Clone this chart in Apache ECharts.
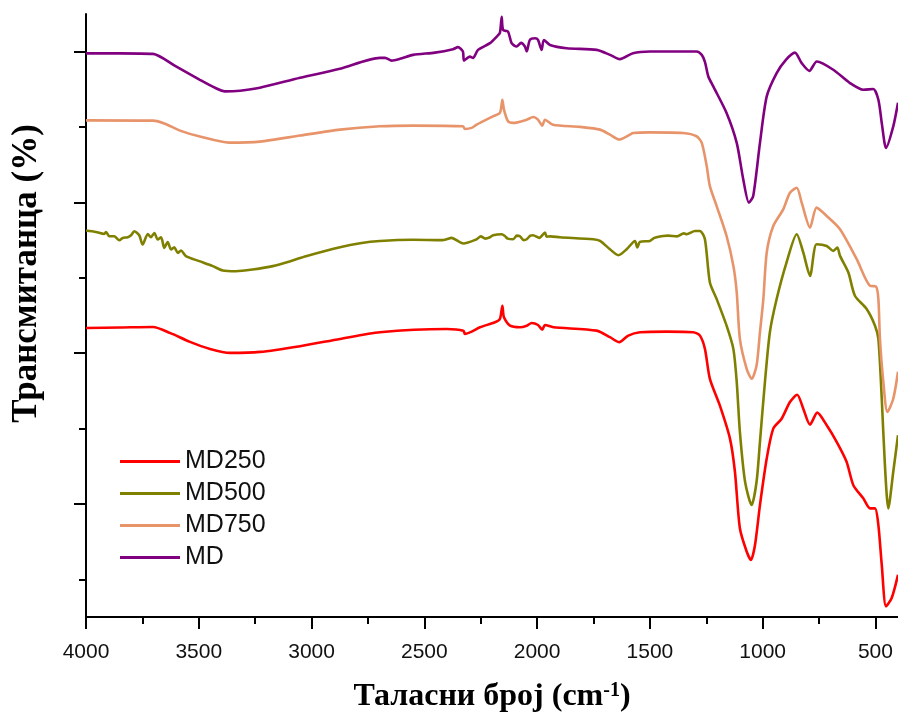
<!DOCTYPE html>
<html>
<head>
<meta charset="utf-8">
<script src="https://cdn.jsdelivr.net/npm/echarts@6/dist/echarts.min.js"></script>
<style>
html,body{margin:0;padding:0;background:#fff;}
#c{width:898px;height:718px;}
</style>
</head>
<body>
<div id="c"></div>
<script>
// Series names
const seriesNames = ['MD250', 'MD500', 'MD750', 'MD'];
const seriesColors = ['#ff0000', '#808000', '#e8946b', '#800080'];

// x tick labels (wavenumber, cm-1)
const xMajorTicks = [4000, 3500, 3000, 2500, 2000, 1500, 1000, 500];
const xMinorTicks = [3750, 3250, 2750, 2250, 1750, 1250, 750];
// y ticks (arbitrary transmittance units, no labels)
const yMajorTicks = [15, 35, 55, 75];
const yMinorTicks = [5, 25, 45, 65];

// [wavenumber, transmittance]
const md250 = [
[4000,38.35],[3849,38.41],[3703,38.48],[3628,37.69],[3539,36.50],[3450,35.57],[3362,35.04],[3229,35.17],
[3051,35.93],[2874,36.89],[2697,37.78],[2401,38.21],[2327,37.99],[2320,37.55],[2290,37.86],[2253,38.44],
[2187,39.10],[2165,39.54],[2154,41.30],[2147,39.76],[2120,38.65],[2076,38.44],[2046,38.65],[2024,39.01],
[1996,38.74],[1977,38.12],[1965,38.74],[1928,38.44],[1736,37.99],[1677,37.12],[1636,36.46],[1596,37.33],
[1544,37.78],[1426,37.86],[1308,37.78],[1278,37.33],[1256,35.57],[1234,31.60],[1190,28.07],[1145,23.67],
[1123,19.27],[1101,11.77],[1071,8.69],[1052,7.58],[1034,9.56],[1012,14.85],[982,21.02],[953,24.99],
[916,26.31],[879,28.52],[847,29.49],[820,27.64],[790,25.52],[758,27.11],[716,25.43],[672,23.23],
[628,20.59],[598,17.49],[554,15.74],[524,14.41],[502,14.41],[487,12.20],[472,6.92],[453,1.41],
[428,2.51],[400,5.59]
];
const md500 = [
[4000,51.27],[3956,51.08],[3919,50.82],[3911,51.08],[3897,50.51],[3875,50.51],[3852,49.98],[3837,50.29],
[3815,50.38],[3800,50.64],[3786,51.17],[3764,50.64],[3749,49.41],[3726,50.82],[3712,50.38],[3697,50.95],
[3682,50.08],[3667,50.38],[3653,48.97],[3638,49.76],[3623,48.75],[3609,49.06],[3593,48.30],[3579,48.62],
[3557,47.87],[3498,47.21],[3438,46.55],[3394,45.98],[3335,45.88],[3261,46.11],[3172,46.55],[3084,47.30],
[3025,47.87],[2874,49.06],[2785,49.59],[2697,49.89],[2550,50.05],[2420,50.00],[2401,50.12],[2380,50.30],
[2327,49.55],[2268,50.12],[2250,50.50],[2230,50.20],[2209,50.38],[2195,50.65],[2157,50.78],[2142,50.51],
[2130,50.20],[2106,50.12],[2090,50.60],[2076,50.51],[2060,50.00],[2046,50.12],[2030,50.60],[2018,50.64],
[1990,50.30],[1965,51.00],[1958,50.47],[1940,50.50],[1899,50.38],[1751,50.12],[1721,49.89],[1677,48.79],
[1640,48.00],[1603,48.79],[1566,49.89],[1556,49.02],[1544,49.76],[1500,49.89],[1480,50.30],[1441,50.55],
[1420,50.60],[1380,50.50],[1350,50.90],[1337,50.78],[1300,51.21],[1278,51.21],[1256,50.12],[1234,44.39],
[1204,42.18],[1160,38.65],[1130,35.57],[1115,31.17],[1101,24.56],[1078,17.94],[1049,14.85],[1027,17.94],
[1012,23.23],[990,31.17],[968,37.78],[938,42.18],[894,47.04],[849,50.78],[820,48.36],[790,45.26],
[761,49.45],[716,49.23],[687,48.57],[669,49.02],[657,47.91],[620,45.71],[591,42.62],[539,40.86],
[502,38.65],[487,36.89],[472,28.96],[458,20.14],[443,14.41],[421,19.27],[400,24.11]
];
const md750 = [
[4000,65.89],[3703,65.85],[3650,65.45],[3583,64.53],[3495,63.74],[3366,62.94],[3229,63.07],[3051,63.87],
[2874,64.66],[2697,65.10],[2550,65.19],[2329,65.10],[2320,64.75],[2290,64.89],[2268,65.32],[2196,66.42],
[2165,66.87],[2154,68.63],[2147,67.31],[2129,65.76],[2107,65.55],[2046,65.98],[2017,66.34],[1996,65.98],
[1977,65.19],[1965,65.98],[1930,65.32],[1810,65.02],[1721,64.66],[1677,64.00],[1636,63.34],[1588,64.00],
[1575,64.22],[1500,64.30],[1353,64.22],[1293,63.78],[1270,62.90],[1248,59.81],[1234,57.16],[1204,54.52],
[1160,50.55],[1130,46.59],[1115,43.07],[1101,36.89],[1071,32.93],[1049,31.60],[1027,33.36],[1012,37.78],
[997,42.18],[982,48.36],[953,51.87],[909,54.08],[879,56.29],[849,56.95],[827,54.97],[790,51.66],
[761,54.31],[716,53.20],[657,51.44],[583,47.47],[524,43.94],[498,43.86],[487,42.18],[480,36.89],
[465,31.17],[447,27.20],[421,28.96],[400,32.53]
];
const md = [
[4000,74.78],[3849,74.78],[3703,74.71],[3605,73.12],[3495,71.27],[3428,70.21],[3384,69.73],[3317,69.82],
[3229,70.21],[3051,71.54],[2874,72.73],[2697,74.18],[2674,74.18],[2645,73.82],[2608,74.05],[2550,74.58],
[2453,74.88],[2373,75.33],[2351,75.60],[2329,75.02],[2324,73.82],[2298,74.35],[2284,74.18],[2262,75.24],
[2209,76.13],[2179,77.00],[2165,77.49],[2157,79.64],[2151,77.88],[2129,77.66],[2113,76.13],[2091,75.68],
[2071,76.17],[2054,75.68],[2046,75.02],[2032,76.56],[2009,76.79],[1996,76.56],[1980,75.24],[1970,76.56],
[1943,75.90],[1869,75.46],[1736,75.24],[1677,74.58],[1633,74.01],[1575,74.80],[1500,75.02],[1293,75.02],
[1270,74.58],[1256,73.65],[1241,71.71],[1219,70.39],[1160,66.87],[1115,62.90],[1086,58.05],[1061,54.97],
[1042,55.84],[1012,62.90],[982,69.07],[938,72.16],[897,73.92],[857,74.88],[827,73.48],[793,72.46],
[760,73.69],[687,72.60],[613,70.84],[554,69.95],[510,70.04],[487,68.63],[471,65.32],[453,62.24],
[421,65.10],[400,68.23]
];
const seriesData = [md250, md500, md750, md];

const sans = "'Liberation Sans', Arial, sans-serif";
const serif = "'Liberation Serif', 'Times New Roman', serif";

const chart = echarts.init(document.getElementById('c'), null, {renderer: 'canvas'});
const axisLineStyle = {color: '#000', width: 2};

chart.setOption({
  animation: false,
  backgroundColor: '#fff',
  grid: {left: 86, right: 0, top: 14, bottom: 99, containLabel: false},
  legend: {
    orient: 'vertical',
    left: 115,
    top: 444,
    padding: 5,
    icon: 'rect',
    itemWidth: 60,
    itemHeight: 3,
    itemGap: 7,
    data: seriesNames,
    textStyle: {fontFamily: sans, fontSize: 25, color: '#111'}
  },
  xAxis: [{
    type: 'value', min: 400, max: 4000, inverse: true, position: 'bottom',
    splitLine: {show: false},
    axisLine: {show: true, lineStyle: axisLineStyle},
    axisTick: {show: true, inside: false, length: 12, lineStyle: {color: '#000', width: 2}, customValues: xMajorTicks},
    axisLabel: {show: true, margin: 25, fontFamily: sans, fontSize: 21, color: '#111', customValues: xMajorTicks,
      formatter: v => String(v)},
    name: 'Таласни број (cm{sup|-1})',
    nameLocation: 'middle',
    nameGap: 64,
    nameTextStyle: {
      fontFamily: serif, fontWeight: 'bold', fontSize: 32, color: '#000',
      rich: {sup: {fontFamily: serif, fontWeight: 'bold', fontSize: 20, color: '#000', verticalAlign: 'top'}}
    }
  }, {
    type: 'value', min: 400, max: 4000, inverse: true, position: 'bottom',
    splitLine: {show: false},
    axisLine: {show: false},
    axisTick: {show: true, inside: false, length: 7, lineStyle: {color: '#000', width: 2}, customValues: xMinorTicks},
    axisLabel: {show: false}
  }],
  yAxis: [{
    type: 'value', min: 0, max: 80, position: 'left',
    splitLine: {show: false},
    axisLine: {show: true, lineStyle: axisLineStyle},
    axisTick: {show: true, inside: false, length: 12, lineStyle: {color: '#000', width: 2}, customValues: yMajorTicks},
    axisLabel: {show: false},
    name: 'Трансмитанца (%)',
    nameLocation: 'middle',
    nameGap: 42,
    nameTextStyle: {fontFamily: serif, fontWeight: 'bold', fontSize: 35, color: '#000', padding: [0, 0, 0, 84]}
  }, {
    type: 'value', min: 0, max: 80, position: 'left',
    splitLine: {show: false},
    axisLine: {show: false},
    axisTick: {show: true, inside: false, length: 7, lineStyle: {color: '#000', width: 2}, customValues: yMinorTicks},
    axisLabel: {show: false}
  }],
  series: seriesNames.map((n, i) => ({
    name: n,
    type: 'line',
    xAxisIndex: 0,
    yAxisIndex: 0,
    data: seriesData[i],
    showSymbol: false,
    symbol: 'none',
    smooth: 0.25,
    color: seriesColors[i],
    lineStyle: {color: seriesColors[i], width: 2.6},
    clip: true
  }))
});
</script>
</body>
</html>
